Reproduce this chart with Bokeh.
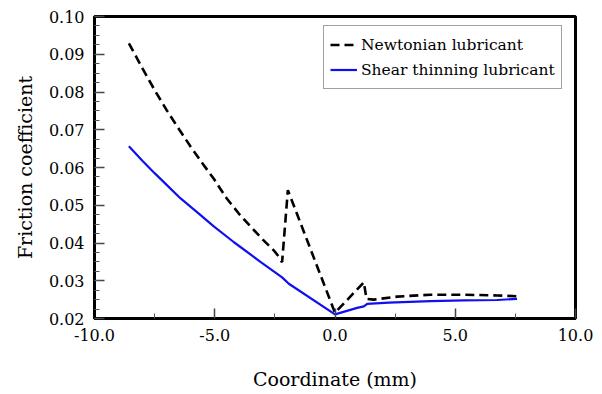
from bokeh.plotting import figure
from bokeh.models import Range1d, FixedTicker, PrintfTickFormatter, Legend, LegendItem
from bokeh.embed import file_html
from bokeh.resources import INLINE

# Data
newt_x = [-8.57, -8.0, -7.5, -7.0, -6.45, -6.0, -5.5, -5.04, -4.5, -4.0, -3.5, -3.0, -2.54, -2.34, -2.20,
          -1.96, 0.0, 1.20, 1.31, 1.61, 2.59, 3.97, 5.36, 6.74, 7.57]
newt_y = [0.0929, 0.0862, 0.0805, 0.0752, 0.0698, 0.0655, 0.0610, 0.0570, 0.0518, 0.0478, 0.0443, 0.0409, 0.0380, 0.0364, 0.0349,
          0.0540, 0.0215, 0.0296, 0.0252, 0.0250, 0.0258, 0.0263, 0.0263, 0.0261, 0.0259]

shear_x = [-8.57, -8.0, -7.5, -7.0, -6.42, -5.7, -5.04, -4.2, -3.35, -3.10, -2.20, -1.92, 0.0, 0.92, 1.20, 1.34, 2.24, 3.97, 5.36, 6.74, 7.57]
shear_y = [0.0656, 0.0617, 0.0585, 0.0554, 0.0518, 0.0480, 0.0444, 0.0402, 0.0362, 0.0350, 0.0309, 0.0292, 0.0211, 0.0228, 0.0232, 0.0239, 0.0242, 0.0246, 0.0248, 0.0249, 0.0252]

x_ticks = [-10, -5, 0, 5, 10]
y_ticks = [0.02, 0.03, 0.04, 0.05, 0.06, 0.07, 0.08, 0.09, 0.10]
x_minor = [-7.5, -2.5, 2.5, 7.5]
y_minor = [round(0.02 + 0.0025 * i, 4) for i in range(33)]

FONT = "DejaVu Serif"

p = figure(width=602, height=394, output_backend="svg", toolbar_location=None,
           x_range=Range1d(-10, 10), y_range=Range1d(0.02, 0.10),
           min_border_left=94, min_border_right=27, min_border_top=16, min_border_bottom=76)

p.xgrid.visible = False
p.ygrid.visible = False
p.outline_line_color = "black"
p.outline_line_width = 3
p.background_fill_color = "white"
p.border_fill_color = "white"

p.xaxis.ticker = FixedTicker(ticks=x_ticks, minor_ticks=x_minor)
p.yaxis.ticker = FixedTicker(ticks=y_ticks, minor_ticks=y_minor)
p.xaxis.formatter = PrintfTickFormatter(format="%.1f")
p.yaxis.formatter = PrintfTickFormatter(format="%.2f")

for ax in (p.xaxis[0], p.yaxis[0]):
    ax.axis_line_width = 3
    ax.axis_line_color = "black"
    ax.major_tick_in = 10
    ax.major_tick_out = 0
    ax.minor_tick_in = 5
    ax.minor_tick_out = 0
    ax.major_tick_line_width = 1.5
    ax.minor_tick_line_width = 1
    ax.major_tick_line_color = "#444444"
    ax.minor_tick_line_color = "#555555"
    ax.major_label_text_font = FONT
    ax.major_label_text_font_size = "16px"
    ax.major_label_text_color = "black"
    ax.axis_label_text_font = FONT
    ax.axis_label_text_font_size = "19px"
    ax.axis_label_text_font_style = "normal"
    ax.axis_label_text_color = "black"

p.xaxis.axis_label = "Coordinate (mm)"
p.yaxis.axis_label = "Friction coefficient"
p.xaxis.major_label_standoff = 10
p.xaxis.axis_label_standoff = 24
p.yaxis.major_label_standoff = 10
p.yaxis.axis_label_standoff = 10

r1 = p.line(newt_x, newt_y, line_color="black", line_width=2.6, line_dash="9 5")
r2 = p.line(shear_x, shear_y, line_color="#1010ee", line_width=2.2)

legend = Legend(items=[LegendItem(label="Newtonian lubricant", renderers=[r1]),
                       LegendItem(label="Shear thinning lubricant", renderers=[r2])],
                location=(229, 229))
legend.label_text_font = FONT
legend.label_text_font_size = "15.5px"
legend.label_text_color = "black"
legend.border_line_color = "#444444"
legend.border_line_width = 1
legend.background_fill_color = "white"
legend.background_fill_alpha = 1
legend.padding = 6
legend.spacing = 0
legend.margin = 0
legend.label_height = 25
legend.glyph_height = 25
legend.glyph_width = 27
legend.label_standoff = 4
p.add_layout(legend)

open("out.html", "w").write(file_html(p, INLINE))
